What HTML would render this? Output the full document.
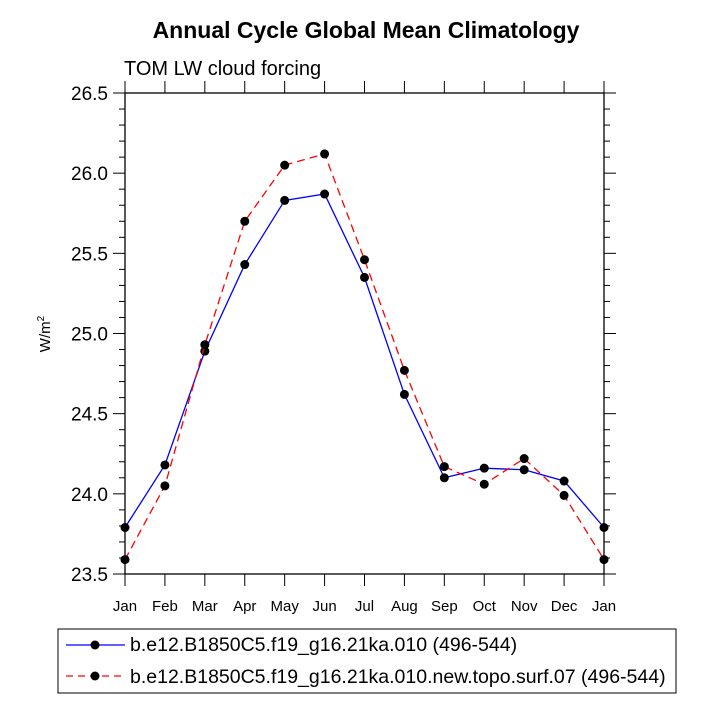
<!DOCTYPE html>
<html><head><meta charset="utf-8"><style>
body{margin:0;background:#fff;font-family:"Liberation Sans",sans-serif}
</style></head><body>
<svg id="c" width="713" height="713" viewBox="0 0 713 713" xmlns="http://www.w3.org/2000/svg">
<text x="366" y="38" text-anchor="middle" font-size="23" font-weight="bold">Annual Cycle Global Mean Climatology</text>
<text x="124" y="75" font-size="20">TOM LW cloud forcing</text>
<text transform="translate(50,334) rotate(-90)" text-anchor="middle" font-size="15">W/m<tspan dy="-6" font-size="10">2</tspan></text>
<g id="axes"></g>
<g id="series"></g>
<g>
<rect x="58" y="629" width="618" height="64" fill="#fff" stroke="#000" stroke-width="1"/>
<line x1="66" y1="645" x2="125" y2="645" stroke="#0000ff" stroke-width="1.2"/>
<circle cx="95" cy="645" r="4.5" fill="#000"/>
<text x="130" y="651" font-size="19.5">b.e12.B1850C5.f19_g16.21ka.010 (496-544)</text>
<line x1="66" y1="676" x2="125" y2="676" stroke="#ff0000" stroke-width="1.2" stroke-dasharray="7,5"/>
<circle cx="95" cy="676" r="4.5" fill="#000"/>
<text x="130" y="683" font-size="19.5">b.e12.B1850C5.f19_g16.21ka.010.new.topo.surf.07 (496-544)</text>
</g>
</svg>
<script>
const months=["Jan","Feb","Mar","Apr","May","Jun","Jul","Aug","Sep","Oct","Nov","Dec","Jan"];
const baseValues=[23.79,24.18,24.89,25.43,25.83,25.87,25.35,24.62,24.10,24.16,24.15,24.08,23.79];
const topoValues=[23.59,24.05,24.93,25.70,26.05,26.12,25.46,24.77,24.17,24.06,24.22,23.99,23.59];
const yTicks=[23.5,24.0,24.5,25.0,25.5,26.0,26.5];
const L=125,R=604,T=93,B=574,ymin=23.5,ymax=26.5;
const NS="http://www.w3.org/2000/svg";
const xs=i=>L+i*(R-L)/(months.length-1);
const ys=v=>B-(v-ymin)/(ymax-ymin)*(B-T);
function mk(tag,at,parent){const e=document.createElementNS(NS,tag);for(const k in at)e.setAttribute(k,at[k]);parent.appendChild(e);return e;}
const ax=document.getElementById('axes');
const frame=mk('rect',{x:L,y:T,width:R-L,height:B-T,fill:'none',stroke:'#000','stroke-width':1.3},ax);


months.forEach((m,i)=>{const x=xs(i);
mk('line',{x1:x,y1:B,x2:x,y2:B+12,stroke:'#000'},ax);
mk('line',{x1:x,y1:T,x2:x,y2:T-12,stroke:'#000'},ax);
const t=mk('text',{x:x,y:B+37,'text-anchor':'middle','font-size':15},ax);t.textContent=m;

});
for(let k=0;k<=30;k++){const v=ymin+k*0.1;const y=ys(v);const major=k%5===0;const len=major?12:6;
mk('line',{x1:L-len,y1:y,x2:L,y2:y,stroke:'#000'},ax);
mk('line',{x1:R,y1:y,x2:R+len,y2:y,stroke:'#000'},ax);}
yTicks.forEach(v=>{const t=mk('text',{x:L-17,y:ys(v)+7,'text-anchor':'end','font-size':19},ax);t.textContent=v.toFixed(1);

});
const sg=document.getElementById('series');
function draw(vals,color,dash,name){const g=mk('g',{},sg);


mk('polyline',{points:vals.map((v,i)=>xs(i)+','+ys(v)).join(' '),fill:'none',stroke:color,'stroke-width':1.3,'stroke-dasharray':dash},g);
vals.forEach((v,i)=>{const c=mk('circle',{cx:xs(i),cy:ys(v),r:4.5,fill:'#000'},g);

});}
draw(baseValues,'#0000ff','none','series-base');
draw(topoValues,'#ff0000','8,5','series-topo');
</script>
</body></html>
